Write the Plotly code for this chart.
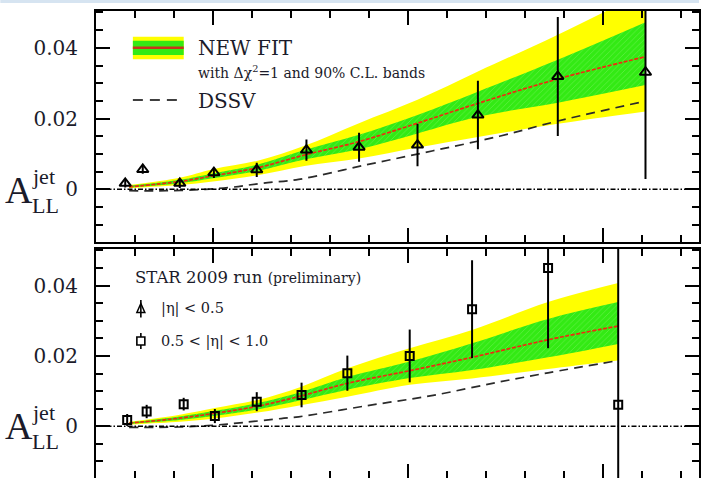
import plotly.graph_objects as go

W, H = 701, 478
ML = 96
PW = W - ML


def px(x):
    return (x - ML) / PW


def py(y):
    return 1 - y / H


# ---------------- data ----------------
# top panel: |eta| < 0.5 (triangles)
pt_top = [5.5, 6.4, 8.3, 10.05, 12.25, 14.8, 17.5, 20.5, 23.6, 27.7, 32.2]
all_top = [0.0017, 0.0056, 0.0017, 0.0047, 0.0055, 0.0111, 0.0119, 0.0125, 0.0210, 0.0319, 0.0331]
err_top = [0.0012, 0.0012, 0.0013, 0.0015, 0.0020, 0.0030, 0.0041, 0.0060, 0.0097, 0.0168, 0.0302]

# bottom panel: 0.5 < |eta| < 1.0 (squares)
pt_bot = [5.6, 6.6, 8.5, 10.1, 12.25, 14.55, 16.9, 20.1, 23.3, 27.2, 30.8]
all_bot = [0.0018, 0.0042, 0.0063, 0.0029, 0.0070, 0.0089, 0.0151, 0.0200, 0.0333, 0.0450, 0.0061]
err_bot = [0.0017, 0.0019, 0.0018, 0.0020, 0.0027, 0.0035, 0.0050, 0.0075, 0.0139, 0.0228, 0.0600]

# new fit with bands, top
pt_fit_top = [5.7, 8.3, 10.0, 12.3, 14.7, 17.5, 20.5, 23.6, 27.7, 32.2]
fit_top = [0.0007, 0.0022, 0.0038, 0.0061, 0.0097, 0.0135, 0.0187, 0.0243, 0.0312, 0.0375]
g_hi_top = [0.0010, 0.0027, 0.0045, 0.0070, 0.0111, 0.0154, 0.0210, 0.0276, 0.0366, 0.0472]
g_lo_top = [0.0005, 0.0017, 0.0031, 0.0052, 0.0084, 0.0113, 0.0158, 0.0205, 0.0245, 0.0295]
y_hi_top = [0.0012, 0.0033, 0.0057, 0.0081, 0.0123, 0.0187, 0.0253, 0.0333, 0.0437, 0.0560]
y_lo_top = [0.0003, 0.0012, 0.0022, 0.0040, 0.0066, 0.0087, 0.0118, 0.0148, 0.0185, 0.0220]

# new fit with bands, bottom
pt_fit_bot = [5.7, 8.3, 10.1, 12.3, 14.5, 16.9, 20.1, 23.3, 27.2, 30.8]
fit_bot = [0.0009, 0.0023, 0.0037, 0.0057, 0.0086, 0.0122, 0.0158, 0.0196, 0.0246, 0.0285]
g_hi_bot = [0.0011, 0.0028, 0.0044, 0.0066, 0.0097, 0.0140, 0.0184, 0.0236, 0.0305, 0.0353]
g_lo_bot = [0.0007, 0.0018, 0.0030, 0.0048, 0.0074, 0.0104, 0.0137, 0.0160, 0.0196, 0.0234]
y_hi_bot = [0.0013, 0.0033, 0.0052, 0.0075, 0.0112, 0.0165, 0.0222, 0.0274, 0.0353, 0.0407]
y_lo_bot = [0.0005, 0.0013, 0.0022, 0.0039, 0.0060, 0.0084, 0.0118, 0.0136, 0.0163, 0.0187]

# DSSV
pt_dssv_top = [5.7, 7.6, 9.6, 11.0, 12.5, 14.4, 17.85, 21.3, 24.7, 27.7, 32.0]
dssv_top = [-0.0004, -0.0004, 0.0, 0.0006, 0.0017, 0.0028, 0.0069, 0.0109, 0.0150, 0.0193, 0.0247]
pt_dssv_bot = [5.7, 8.2, 10.0, 11.6, 13.5, 14.4, 17.85, 21.3, 24.6, 27.2, 30.8]
dssv_bot = [-0.0003, -0.0002, 0.0003, 0.0011, 0.0022, 0.0027, 0.0058, 0.0088, 0.0125, 0.0152, 0.0187]

YELLOW = "#ffff00"
GREEN = "#33ea14"
RED = "#f02a10"
TXT = "#1b1b2a"

fig = go.Figure()


def add_panel(xa, ya, pts, yhi, ylo, ghi, glo, fit, pd, dv):
    fig.add_trace(go.Scatter(x=pts, y=ylo, mode="lines", line=dict(width=0, shape="spline"),
                             xaxis=xa, yaxis=ya, showlegend=False, hoverinfo="skip"))
    fig.add_trace(go.Scatter(x=pts, y=yhi, mode="lines", line=dict(width=0, shape="spline"),
                             fill="tonexty", fillcolor=YELLOW,
                             xaxis=xa, yaxis=ya, showlegend=False, hoverinfo="skip"))
    fig.add_trace(go.Scatter(x=pts, y=glo, mode="lines", line=dict(width=0, shape="spline"),
                             xaxis=xa, yaxis=ya, showlegend=False, hoverinfo="skip"))
    fig.add_trace(go.Scatter(x=pts, y=ghi, mode="lines", line=dict(width=0, shape="spline"),
                             fill="tonexty", fillcolor=GREEN,
                             fillpattern=dict(shape="/", size=4, solidity=0.2,
                                              fgcolor="#8af46e", bgcolor=GREEN),
                             xaxis=xa, yaxis=ya, showlegend=False, hoverinfo="skip"))
    fig.add_trace(go.Scatter(x=pts, y=fit, mode="lines",
                             line=dict(width=1.7, color=RED, dash="4px,1.5px", shape="spline"),
                             xaxis=xa, yaxis=ya, showlegend=False, hoverinfo="skip"))
    fig.add_trace(go.Scatter(x=pd, y=dv, mode="lines",
                             line=dict(width=1.7, color="#2a2a2a", dash="9px,6px", shape="spline"),
                             xaxis=xa, yaxis=ya, showlegend=False, hoverinfo="skip"))


add_panel("x", "y", pt_fit_top, y_hi_top, y_lo_top, g_hi_top, g_lo_top, fit_top, pt_dssv_top, dssv_top)
add_panel("x2", "y2", pt_fit_bot, y_hi_bot, y_lo_bot, g_hi_bot, g_lo_bot, fit_bot, pt_dssv_bot, dssv_bot)

fig.add_trace(go.Scatter(
    x=pt_top, y=all_top, mode="markers", xaxis="x", yaxis="y",
    marker=dict(symbol="triangle-up-open", size=10, color="black", line=dict(width=2, color="black")),
    error_y=dict(type="data", array=err_top, color="black", thickness=2, width=0),
    showlegend=False))
fig.add_trace(go.Scatter(
    x=pt_bot, y=all_bot, mode="markers", xaxis="x2", yaxis="y2",
    marker=dict(symbol="square-open", size=8, color="black", line=dict(width=2, color="black")),
    error_y=dict(type="data", array=err_bot, color="black", thickness=2, width=0),
    showlegend=False))

xr = [4.0, 4.0 + PW * 20 / 391]
top_dom = [py(242), py(10.7)]
bot_dom = [0, py(249)]

xcommon = dict(range=xr, showline=True, linewidth=2, linecolor="black", mirror="ticks",
               ticks="inside", ticklen=14, tickwidth=1.5, tickcolor="black",
               tick0=0, dtick=10, showticklabels=False, showgrid=False, zeroline=False,
               minor=dict(dtick=2, ticklen=7, tickwidth=1.5, tickcolor="black", ticks="inside"))
ycommon = dict(showline=True, linewidth=2, linecolor="black", mirror="ticks",
               ticks="inside", ticklen=14, tickwidth=1.5, tickcolor="black",
               tick0=0, dtick=0.02, showgrid=False, zeroline=False,
               tickfont=dict(family="DejaVu Serif", size=20, color=TXT),
               ticklabelstandoff=12,
               minor=dict(dtick=0.005, ticklen=7, tickwidth=1.5, tickcolor="black", ticks="inside"))

fig.update_layout(
    width=W, height=H, margin=dict(l=ML, r=0, t=0, b=0),
    paper_bgcolor="white", plot_bgcolor="white",
    xaxis=dict(anchor="y", domain=[0, 1], **xcommon),
    yaxis=dict(anchor="x", domain=top_dom, range=[-0.0149, 0.0505], **ycommon),
    xaxis2=dict(anchor="y2", domain=[0, 1], **xcommon),
    yaxis2=dict(anchor="x2", domain=bot_dom, range=[-0.0147, 0.0504], **ycommon),
)

shapes = []
# zero lines
for yr, xr_ in (("y", "x domain"), ("y2", "x2 domain")):
    shapes.append(dict(type="line", xref=xr_, yref=yr, x0=0, x1=1, y0=0, y1=0,
                       line=dict(color="black", width=1.4, dash="5px,2px,1.5px,2px")))
# light-blue strip at top of slide
shapes.append(dict(type="rect", xref="paper", yref="paper", x0=px(0), x1=px(W), y0=py(3), y1=1,
                   fillcolor="#d6e4f1", line=dict(width=0), layer="below"))
# legend: band swatch
shapes.append(dict(type="rect", xref="paper", yref="paper", x0=px(133), x1=px(184), y0=py(59.3), y1=py(36.7),
                   fillcolor=YELLOW, line=dict(width=0)))
shapes.append(dict(type="rect", xref="paper", yref="paper", x0=px(133), x1=px(184), y0=py(55), y1=py(40.7),
                   fillcolor=GREEN, line=dict(width=0)))
shapes.append(dict(type="line", xref="paper", yref="paper", x0=px(133), x1=px(184), y0=py(47.8), y1=py(47.8),
                   line=dict(color="#c8361a", width=2.5)))
# legend: DSSV dashes
shapes.append(dict(type="line", xref="paper", yref="paper", x0=px(133), x1=px(184), y0=py(100), y1=py(100),
                   line=dict(color="black", width=1.6, dash="10px,7px")))
# legend: triangle marker with bar
tx, ty = 141, 308.5
shapes.append(dict(type="path", xref="paper", yref="paper",
                   path=f"M{px(tx)},{py(ty-5)} L{px(tx-4)},{py(ty+4)} L{px(tx+4)},{py(ty+4)} Z",
                   line=dict(color="black", width=1.5), fillcolor="white"))
shapes.append(dict(type="line", xref="paper", yref="paper", x0=px(tx), x1=px(tx), y0=py(300), y1=py(317.5),
                   line=dict(color="black", width=1.6)))
# legend: square marker with bar
sx, sy = 141, 341
shapes.append(dict(type="line", xref="paper", yref="paper", x0=px(sx), x1=px(sx), y0=py(333), y1=py(349),
                   line=dict(color="black", width=1.6)))
shapes.append(dict(type="rect", xref="paper", yref="paper", x0=px(sx-4), x1=px(sx+4), y0=py(sy+4), y1=py(sy-4),
                   line=dict(color="black", width=1.6), fillcolor="white"))
fig.update_layout(shapes=shapes)

ann = []


def text(x, y, s, size, fam="DejaVu Serif", xanchor="left"):
    ann.append(dict(x=px(x), y=py(y), xref="paper", yref="paper", text=s, showarrow=False,
                    xanchor=xanchor, yanchor="middle", font=dict(family=fam, size=size, color=TXT)))


text(196, 47.5, "NEW FIT", 20)
text(196, 72.5, "with Δχ<sup>2</sup>=1 and 90% C.L. bands", 14)
text(196, 101, "DSSV", 20)
text(133, 277, "STAR 2009 run <span style='font-size:14px'>(preliminary)</span>", 16.5)
text(159, 308.5, "|η| &lt; 0.5", 14.5)
text(159, 341, "0.5 &lt; |η| &lt; 1.0", 14.5)

# A_LL^jet labels
for yc in (190, 426):
    text(3, yc, "A", 38, fam="Liberation Serif")
    text(30, yc - 14, "jet", 22, fam="Liberation Serif")
    text(30, yc + 15, "LL", 22, fam="Liberation Serif")

fig.update_layout(annotations=ann)

fig.write_html("out.html")
